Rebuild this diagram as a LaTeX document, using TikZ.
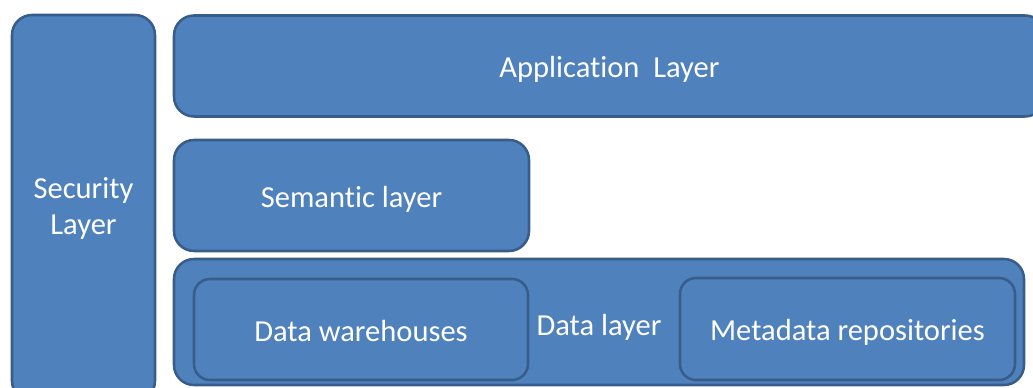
\documentclass[tikz,border=0pt]{standalone}
\usepackage{fontspec}
\setmainfont[Ligatures=NoCommon]{Carlito}
\definecolor{layerfill}{HTML}{4F81BD}
\definecolor{layerline}{HTML}{385D8A}
\begin{document}
\begin{tikzpicture}[x=0.75pt,y=-0.75pt,
  layer/.style={draw=layerline, fill=layerfill, line width=1.9pt,
    rounded corners=15pt, text=white, inner sep=0pt, outer sep=0pt,
    font=\fontsize{22.9}{27}\selectfont},
  oneline/.style={text height=17.7pt, text depth=0pt},
  sublayer/.style={layer, oneline, rounded corners=12pt}]
\useasboundingbox (0,0) rectangle (1033,388);
\clip (0,0) rectangle (1033,388);
% security layer spans the full height on the left
\node[layer, align=center, minimum width=107.25pt, minimum height=289.5pt] (sec) at (83.5,208)
  {Security\\Layer};
% stacked layers on the right
\node[layer, oneline, minimum width=653.25pt, minimum height=75.75pt] (app) at (609.5,66)
  {Application\ \ Layer};
\node[layer, oneline, minimum width=266.25pt, minimum height=83.25pt] (sem) at (351.5,195.5)
  {Semantic layer};
\node[layer, oneline, text height=21pt, minimum width=637.5pt, minimum height=94.5pt] (data) at (599,322)
  {Data layer};
% stores inside the data layer
\node[sublayer, minimum width=250.5pt, minimum height=75.75pt] (dw) at (361,329.5)
  {Data warehouses};
\node[sublayer, minimum width=251.25pt, minimum height=76.5pt] (md) at (847.5,329)
  {Metadata repositories};
\end{tikzpicture}
\end{document}
